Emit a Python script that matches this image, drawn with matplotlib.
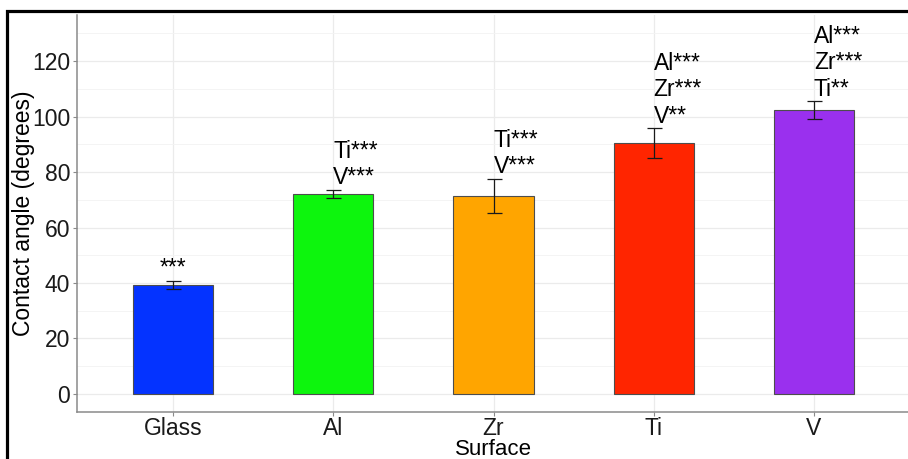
import matplotlib.pyplot as plt
from matplotlib.patches import Rectangle
import numpy as np

plt.rcParams['font.family'] = ['Liberation Sans', 'DejaVu Sans']

surfaces = ["Glass", "Al", "Zr", "Ti", "V"]
angle_mean = [39.4, 72.1, 71.4, 90.3, 102.3]
angle_sd = [1.5, 1.5, 6.2, 5.4, 3.2]
sig_labels = ["***", "Ti***\nV***", "Ti***\nV***", "Al***\nZr***\nV**", "Al***\nZr***\nTi**"]
bar_colors = ["#0433FF", "#0DF50D", "#FFA500", "#FF2500", "#9A30EE"]

fig = plt.figure(figsize=(9.08, 4.59), dpi=100)
W, H = 908, 459
ax = fig.add_axes([77 / W, 1 - 412.3 / H, (910 - 77) / W, (412.3 - 15) / H])

x = np.arange(len(surfaces))
ax.bar(x, angle_mean, width=0.5, color=bar_colors, edgecolor="#4d4d4d",
       linewidth=0.8, zorder=3)
ax.errorbar(x, angle_mean, yerr=angle_sd, fmt="none", ecolor="#1a1a1a",
            elinewidth=0.9, capsize=5.4, capthick=0.9, zorder=4)

# significance labels above error bars
for i, lab in enumerate(sig_labels):
    top = angle_mean[i] + angle_sd[i]
    ha = "center" if i == 0 else "left"
    ax.annotate(lab, (x[i], top), xytext=(0, 4), textcoords="offset points",
                ha=ha, va="baseline", fontsize=16.5, linespacing=1.2,
                color="black", zorder=5)

ax.set_xlim(-0.6, 4.6)
ax.set_ylim(-6.6, 136.6)
ax.set_xticks(x)
ax.set_xticklabels(surfaces)
ax.set_yticks(np.arange(0, 121, 20))
ax.set_yticks(np.arange(10, 131, 20), minor=True)

ax.grid(which="major", color="#ebebeb", linewidth=0.9, zorder=0)
ax.grid(which="minor", axis="y", color="#f3f3f3", linewidth=0.6, zorder=0)
ax.set_axisbelow(True)

for s in ["top", "right"]:
    ax.spines[s].set_visible(False)
for s in ["left", "bottom"]:
    ax.spines[s].set_color("#8a8a8a")
    ax.spines[s].set_linewidth(1.1)

ax.tick_params(axis="both", which="major", labelsize=16.5, colors="#8a8a8a",
               labelcolor="#1a1a1a", length=3, width=0.8, pad=2)
ax.tick_params(axis="x", which="major", pad=0.5)
ax.tick_params(axis="y", which="minor", length=0)

ax.set_xlabel("Surface", fontsize=16, labelpad=-0.5)
ax.set_ylabel("Contact angle (degrees)", fontsize=16.5, labelpad=-2)

# outer frame running off the right and bottom edges
fig.patches.append(Rectangle((6.5 / W, -0.05), 1.2, 1 - 10.5 / H + 0.05,
                             transform=fig.transFigure, fill=False,
                             edgecolor="black", linewidth=2.3, zorder=10))

fig.savefig("out.png", dpi=100)
